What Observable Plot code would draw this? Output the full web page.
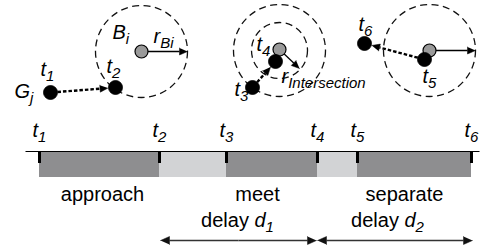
<!DOCTYPE html>
<html><head><meta charset="utf-8">
<script src="https://cdn.jsdelivr.net/npm/d3@7"></script>
<script src="https://cdn.jsdelivr.net/npm/@observablehq/plot@0.6"></script>
<style>
html,body{margin:0;padding:0;background:#fff;}
svg text{white-space:pre;}
</style>
</head><body><div id="chart"></div>
<script>
// ---- timeline data ----
const eventNames = ["t_1","t_2","t_3","t_4","t_5","t_6"];
const eventTimes = [39, 159, 226, 317, 357, 471];
const phaseKinds = ["active","pause","active","pause","active"];
const phaseNames = ["approach","meet","separate"];
const phaseNameX = [102, 257, 404];
const delayNames = ["delay d_1","delay d_2"];
const delayStart = [160, 317];
const delayEnd = [316, 472];
const delayNameX = [237, 387];

// ---- scene data ----
const zoneX = [141, 279, 279, 429];
const zoneY = [51, 50, 50, 50];
const zoneR = [46, 46, 28, 46];
const beaconX = [141, 279, 429];
const beaconY = [51, 49, 50];
const radiusTipX = [187, 299, 475];
const radiusTipY = [51, 68, 50];
const groupX = [50, 115, 252, 275, 424, 364];
const groupY = [92, 87, 87, 61, 59, 43];
const moveFrom = [0, 2, 4];
const moveTo = [1, 3, 5];
const labelTexts = ["G_j","t_1","t_2","B_i","r_Bi","t_4","t_3","r_Intersection","t_6","t_5"];
const labelX = [14, 40, 106, 112, 153, 256, 234, 281, 358, 422];
const labelY = [97, 75, 72, 38, 42, 50, 95, 82, 30, 82];

// ---- layout rows ----
const axisY = 151, barBottom = 177, tickBottom = 163, eventLabelY = 136,
      phaseLabelY = 200, delayLabelY = 226, delayArrowY = 240, axisStart = 25, axisEnd = 488;

const dark = "#8e8e90", light = "#d2d3d5";

function arrow(x1, y1, x2, y2, L, Wd, id) {
  const dx = x2 - x1, dy = y2 - y1, len = Math.hypot(dx, dy), ux = dx / len, uy = dy / len;
  const bx = x2 - ux * L, by = y2 - uy * L;
  return {
    shaft: {x1, y1, x2: bx, y2: by},
    head: [
      {x: x2, y: y2, id},
      {x: bx - uy * Wd / 2, y: by + ux * Wd / 2, id},
      {x: bx + uy * Wd / 2, y: by - ux * Wd / 2, id}
    ]
  };
}

const phases = phaseKinds.map((k, i) => ({kind: k, x1: eventTimes[i], x2: eventTimes[i + 1]}));
const events = eventNames.map((n, i) => ({name: n, x: eventTimes[i]}));
const phaseLabels = phaseNames.map((n, i) => ({name: n, x: phaseNameX[i]}));
const delayLabels = delayNames.map((n, i) => ({name: n, x: delayNameX[i]}));
const zones = zoneX.map((x, i) => ({x, y: zoneY[i], r: zoneR[i]}));
const beacons = beaconX.map((x, i) => ({x, y: beaconY[i]}));
const groups = groupX.map((x, i) => ({x, y: groupY[i]}));
const labels = labelTexts.map((t, i) => ({t, x: labelX[i], y: labelY[i]}));

const dotR = 7;
const radiusArrows = beacons.map((b, i) => arrow(b.x, b.y, radiusTipX[i], radiusTipY[i], 8, 7, "r" + i));
const moveArrows = moveFrom.map((f, i) => {
  const a = groups[f], b = groups[moveTo[i]];
  const dx = b.x - a.x, dy = b.y - a.y, len = Math.hypot(dx, dy);
  const ux = dx / len, uy = dy / len;
  return arrow(a.x + ux * dotR, a.y + uy * dotR, b.x - ux * (dotR + 0.5), b.y - uy * (dotR + 0.5), 8, 7, "m" + i);
});
const delayArrows = delayStart.flatMap((s, i) => {
  const mid = (s + delayEnd[i]) / 2;
  return [arrow(mid, delayArrowY, s, delayArrowY, 9, 8, "dl" + i), arrow(mid, delayArrowY, delayEnd[i], delayArrowY, 9, 8, "dr" + i)];
});
const axisArrow = arrow(axisStart, axisY, axisEnd, axisY, 9, 8, "axis");

const heads = (arr) => arr.flatMap(a => a.head);
const shafts = (arr) => arr.map(a => a.shaft);

const chart = Plot.plot({
  width: 489, height: 247,
  margin: 0,
  x: {domain: [0, 489], range: [0, 489], axis: null},
  y: {domain: [0, 247], range: [0, 247], axis: null},
  r: {type: "identity"},
  style: {fontFamily: "'Liberation Sans', Arial, Helvetica, sans-serif", background: "#fff", color: "#000"},
  marks: [
    // timeline bars
    Plot.rect(phases, {x1: "x1", x2: "x2", y1: axisY, y2: barBottom, fill: d => d.kind === "active" ? dark : light}),
    Plot.link([axisArrow.shaft], {x1: "x1", y1: "y1", x2: "x2", y2: "y2", stroke: "#000", strokeWidth: 1.2}),
    Plot.line([axisArrow.head], {x: "x", y: "y", fill: "#000", stroke: "#000", strokeWidth: 0.5}),
    Plot.ruleX(events, {x: "x", y1: axisY, y2: tickBottom, stroke: "#000", strokeWidth: 3}),
    Plot.text(events, {x: "x", y: eventLabelY, text: "name", fontSize: 20, lineAnchor: "bottom", textAnchor: "middle", fill: "#000"}),
    Plot.text(phaseLabels, {x: "x", y: phaseLabelY, text: "name", fontSize: 20, lineAnchor: "bottom", textAnchor: "middle", fill: "#000"}),
    Plot.text(delayLabels, {x: "x", y: delayLabelY, text: "name", fontSize: 20, lineAnchor: "bottom", textAnchor: "middle", fill: "#000"}),
    Plot.link(shafts(delayArrows), {x1: "x1", y1: "y1", x2: "x2", y2: "y2", stroke: "#333", strokeWidth: 1.6}),
    Plot.line(heads(delayArrows), {x: "x", y: "y", z: "id", fill: "#111", stroke: "#111", strokeWidth: 0.5}),
    // scene
    Plot.dot(zones, {x: "x", y: "y", r: "r", fill: "none", stroke: "#111", strokeWidth: 1.3, strokeDasharray: "7,4.5"}),
    Plot.link(shafts(radiusArrows), {x1: "x1", y1: "y1", x2: "x2", y2: "y2", stroke: "#000", strokeWidth: 1.3}),
    Plot.line(heads(radiusArrows), {x: "x", y: "y", z: "id", fill: "#000", stroke: "#000", strokeWidth: 0.5}),
    Plot.dot(beacons, {x: "x", y: "y", r: dotR - 0.5, fill: "#9a9a9a", stroke: "#000", strokeWidth: 1.2}),
    Plot.link(shafts(moveArrows), {x1: "x1", y1: "y1", x2: "x2", y2: "y2", stroke: "#000", strokeWidth: 2.4, strokeDasharray: "3.5,2"}),
    Plot.line(heads(moveArrows), {x: "x", y: "y", z: "id", fill: "#000", stroke: "#000", strokeWidth: 0.5}),
    Plot.dot(groups, {x: "x", y: "y", r: dotR, fill: "#000", stroke: "#000", strokeWidth: 0.8}),
    Plot.text(labels, {x: "x", y: "y", text: "t", fontSize: 20, lineAnchor: "bottom", textAnchor: "start", fill: "#000"})
  ]
});

// subscripts / italics
d3.select(chart).selectAll("text").each(function () {
  const t = this.textContent;
  const i = t.indexOf("_");
  if (i < 0) return;
  const main = t.slice(0, i), sub = t.slice(i + 1);
  const sel = d3.select(this);
  sel.text(null);
  const sp = main.lastIndexOf(" ");
  if (sp >= 0) sel.append("tspan").text(main.slice(0, sp + 1));
  sel.append("tspan").attr("font-style", "italic").text(main.slice(sp + 1));
  sel.append("tspan").attr("font-style", "italic").attr("font-size", 15).attr("dy", 5).text(sub);
});

document.getElementById("chart").appendChild(chart);
</script>
</body></html>
